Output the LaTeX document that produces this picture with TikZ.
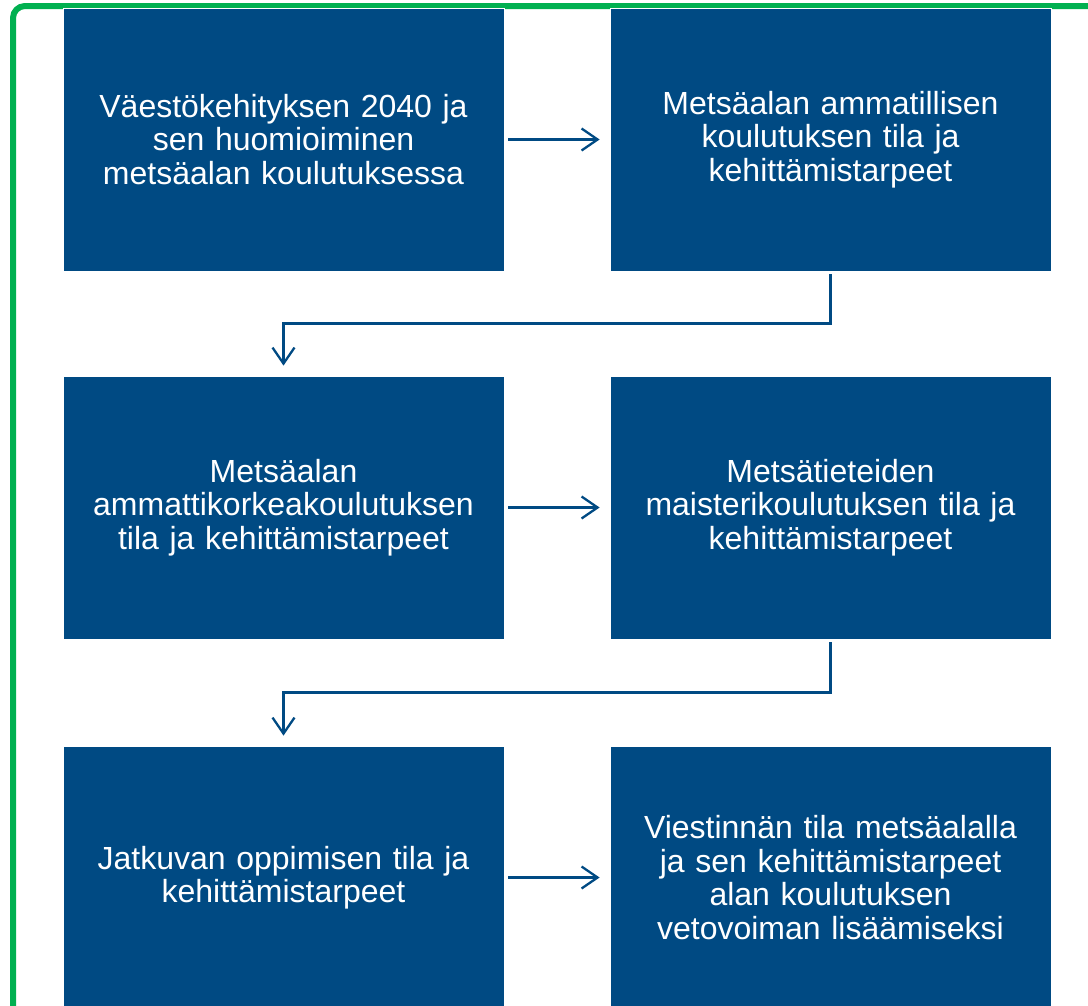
\documentclass[tikz,border=0pt]{standalone}
\usepackage{fontspec}
\setmainfont{Liberation Sans}
\usetikzlibrary{arrows.meta}
\definecolor{boxblue}{HTML}{004A83}
\definecolor{framegreen}{HTML}{00B050}
\tikzset{
  stepbox/.style={fill=boxblue,draw=white,line width=0.8pt,minimum width=441pt,minimum height=263pt,
    text width=425pt,align=center,text=white,inner sep=0pt,font=\fontsize{32}{33.5}\selectfont},
  flow/.style={draw=boxblue,line width=2.3pt,-{Straight Barb[length=16pt,width=22pt,line width=2.3pt]}}
}
\begin{document}
\begin{tikzpicture}[x=1pt,y=-1pt]
    \useasboundingbox (0,0) rectangle (1088,1005);
    \clip (0,0) rectangle (1088,1005);
    % Draw green frame
    \draw[framegreen,line width=6pt,rounded corners=12pt] (13,6) rectangle (1130,1050);
    % Draw the six boxes
    \node[stepbox] (vaesto) at (283.5,139.5) {Väestökehityksen 2040 ja\\sen huomioiminen\\metsäalan koulutuksessa};
    \node[stepbox] (ammat) at (830.5,139.5) {Metsäalan ammatillisen\\koulutuksen tila ja\\kehittämistarpeet};
    \node[stepbox] (amk) at (283.5,507.5) {Metsäalan\\ammattikorkeakoulutuksen\\tila ja kehittämistarpeet};
    \node[stepbox] (maisteri) at (830.5,507.5) {Metsätieteiden\\maisterikoulutuksen tila ja\\kehittämistarpeet};
    \node[stepbox] (jatkuva) at (283.5,877.5) {Jatkuvan oppimisen tila ja\\kehittämistarpeet};
    \node[stepbox] (viestinta) at (830.5,877.5) {Viestinnän tila metsäalalla\\ja sen kehittämistarpeet\\alan koulutuksen\\vetovoiman lisäämiseksi};
    % Draw horizontal arrows
    \draw[flow,shorten <=4pt,shorten >=10pt] (vaesto.east) -- (ammat.west);
    \draw[flow,shorten <=4pt,shorten >=10pt] (amk.east) -- (maisteri.west);
    \draw[flow,shorten <=4pt,shorten >=10pt] (jatkuva.east) -- (viestinta.west);
    % Draw elbow arrows between rows
    \draw[flow,shorten <=3pt,shorten >=10pt] (ammat.south) -- ++(0,52) -| (amk.north);
    \draw[flow,shorten <=3pt,shorten >=10pt] (maisteri.south) -- ++(0,53) -| (jatkuva.north);
\end{tikzpicture}
\end{document}
